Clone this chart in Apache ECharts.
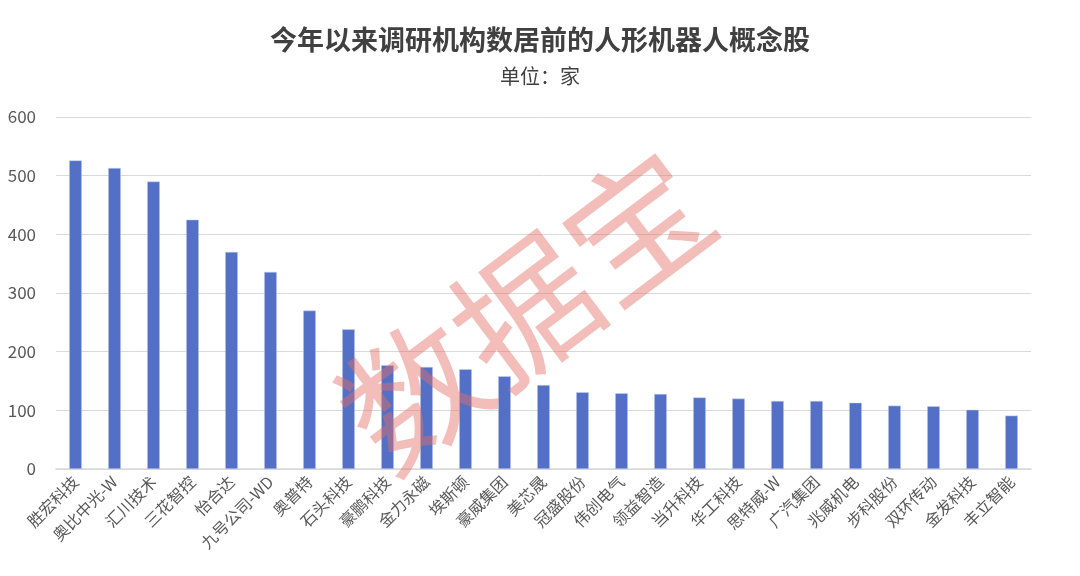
<!DOCTYPE html>
<html><head><meta charset="utf-8">
<script src="https://cdn.jsdelivr.net/npm/echarts@6/dist/echarts.min.js"></script>
<style>html,body{margin:0;padding:0;background:#fff}#c{width:1080px;height:576px}</style>
</head><body><div id="c"></div>
<script>
const categories = ['胜宏科技','奥比中光-W','汇川技术','三花智控','怡合达','九号公司-WD','奥普特','石头科技','豪鹏科技','金力永磁','埃斯顿','豪威集团','美芯晟','冠盛股份','伟创电气','领益智造','当升科技','华工科技','思特威-W','广汽集团','兆威机电','步科股份','双环传动','金发科技','丰立智能'];
const values = [526,513,490,425,370,336,270,238,177,174,170,158,143,131,129,128,122,120,116,116,113,108,107,101,91];
const yTicks = [0,100,200,300,400,500,600];
const titleText = '今年以来调研机构数居前的人形机器人概念股';
const subtitleText = '单位：家';
const watermark = '数据宝';

const font = '"Noto Sans CJK SC","Microsoft YaHei",sans-serif';
const chart = echarts.init(document.getElementById('c'));
chart.setOption({
  backgroundColor: '#fff',
  animation: false,
  title: {
    text: titleText, subtext: subtitleText, left: 'center', top: 21, itemGap: 13,
    textStyle: {fontFamily: font, fontSize: 27, fontWeight: 'bold', color: '#404040'},
    subtextStyle: {fontFamily: font, fontSize: 20, color: '#404040'}
  },
  grid: {left: 56, right: 49, top: 117, bottom: 107, containLabel: false},
  xAxis: {
    type: 'category', data: categories,
    axisLine: {lineStyle: {color: '#d9d9d9', width: 1.5}},
    axisTick: {show: false},
    axisLabel: {rotate: 45, interval: 0, fontFamily: font, fontSize: 16, color: '#595959', margin: 10}
  },
  yAxis: {
    type: 'value', min: yTicks[0], max: yTicks[yTicks.length-1], interval: 100,
    axisLine: {show: false}, axisTick: {show: false},
    splitLine: {lineStyle: {color: '#d9d9d9', width: 1}},
    axisLabel: {fontFamily: font, fontSize: 17, color: '#595959', margin: 20}
  },
  series: [{
    type: 'bar', data: values, barWidth: 12.7,
    itemStyle: {color: '#5470c6', borderColor: '#c9d3f0', borderWidth: 0.5}
  }],
  graphic: [{
    type: 'text', position: [525, 310], rotation: 37 * Math.PI / 180, z: 100,
    style: {
      text: watermark, x: 0, y: 0, align: 'center', verticalAlign: 'middle',
      font: '400 140px "Noto Sans CJK SC", sans-serif', fill: 'rgba(228,110,100,0.45)'
    }
  }]
});
</script></body></html>
